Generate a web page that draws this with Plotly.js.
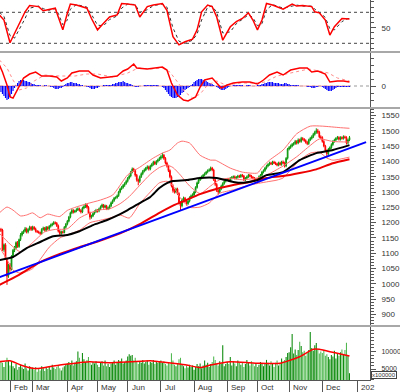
<!DOCTYPE html>
<html><head><meta charset="utf-8">
<script src="https://cdn.plot.ly/plotly-3.0.1.min.js"></script>
<style>html,body{margin:0;padding:0;background:#fff}#c{width:400px;height:392px}</style>
</head><body><div id="c"></div>
<script>
// ---- month ticks (trading-day index of first session of each month) ----
const monthStart = [7,22,45,65,85,107,129,151,171,192,214,237];
const monthLabel = ['Feb','Mar','Apr','May','Jun','Jul','Aug','Sep','Oct','Nov','Dec','202'];
const volTickVals = [5000, 10000];
const volTickText = ['5000', '10000'];

// ---- daily OHLC (VN-Index style, trading days) ----
const open = [
1170,1178,1176,1112,1128,1080,1028,
1062,1048,1090,1110,1118,1135,1122,1145,1160,1168,1172,1180,1170,1178,1185,
1178,1185,1180,1172,1170,1168,1165,1178,1182,1175,1185,1180,1188,1192,1196,1200,1198,1190,1172,1165,1170,1168,1185,
1195,1205,1218,1232,1240,1235,1238,1242,1245,1240,1235,1248,1252,1258,1250,1232,1218,1222,1230,1236,
1240,1238,1245,1252,1258,1250,1255,1245,1248,1255,1265,1272,1280,1282,1288,1300,1310,1315,1322,1328,
1335,1345,1352,1365,1375,1370,1355,1340,1335,1350,1360,1368,1372,1378,1382,1375,1385,1390,1398,1392,1400,1405,
1410,1415,1420,1410,1395,1385,1370,1350,1320,1305,1300,1310,1295,1265,1255,1275,1280,1270,1262,1270,1282,1288,
1290,1300,1315,1330,1340,1345,1350,1355,1360,1365,1370,1372,1378,1372,1340,1325,1305,1300,1310,1320,1328,1335,
1340,1342,1338,1345,1348,1350,1345,1348,1352,1350,1355,1352,1340,1345,1350,1355,1352,1348,1345,1340,
1342,1335,1350,1355,1365,1370,1378,1385,1390,1395,1392,1398,1395,1392,1388,1395,1390,1398,1395,1385,1410,
1440,1445,1450,1455,1458,1465,1460,1470,1465,1475,1472,1468,1462,1458,1470,1475,1480,1488,1495,1500,1495,1480,
1478,1465,1450,1435,1425,1440,1445,1455,1465,1470,1475,1478,1472,1478,1475,1480,1478,1460,1470];
const high = [
1184,1183,1180,1132,1133,1085,1066,
1068,1094,1114,1124,1139,1140,1148,1166,1173,1177,1186,1184,1182,1190,1189,
1190,1189,1184,1176,1174,1171,1182,1187,1186,1189,1188,1192,1197,1200,1205,1204,1202,1194,1176,1174,1174,1189,1199,
1209,1222,1236,1245,1244,1242,1247,1250,1249,1244,1252,1257,1263,1262,1254,1236,1226,1234,1240,1245,
1244,1249,1256,1262,1261,1259,1258,1252,1259,1269,1276,1284,1286,1292,1304,1314,1320,1326,1332,1340,
1349,1357,1369,1380,1379,1374,1359,1344,1354,1364,1372,1377,1382,1387,1386,1389,1395,1402,1402,1404,1409,1415,
1420,1428,1424,1414,1399,1389,1374,1354,1325,1310,1314,1314,1299,1270,1279,1285,1284,1274,1274,1286,1292,1296,
1304,1319,1334,1344,1350,1354,1359,1364,1369,1374,1377,1383,1382,1376,1344,1329,1309,1314,1324,1332,1339,1344,
1346,1346,1349,1352,1354,1354,1352,1356,1356,1359,1359,1356,1349,1354,1359,1359,1356,1352,1349,1346,
1346,1354,1359,1369,1374,1382,1389,1394,1399,1399,1402,1402,1399,1396,1399,1399,1402,1403,1399,1414,1444,
1450,1455,1460,1463,1470,1469,1475,1474,1480,1479,1476,1472,1466,1474,1480,1485,1493,1500,1508,1506,1500,1485,
1482,1469,1454,1439,1444,1449,1459,1469,1474,1479,1483,1482,1482,1482,1485,1484,1482,1474,1483];
const low = [
1166,1170,1108,1105,1080,997,1020,
1040,1044,1086,1104,1114,1118,1118,1140,1155,1163,1168,1165,1165,1174,1173,
1174,1176,1168,1166,1164,1160,1161,1174,1171,1171,1176,1176,1184,1188,1192,1194,1186,1168,1160,1161,1164,1165,1181,
1191,1201,1214,1228,1230,1231,1234,1238,1236,1230,1231,1244,1248,1246,1228,1210,1213,1218,1226,1232,
1233,1234,1241,1248,1246,1247,1241,1241,1244,1251,1261,1268,1276,1278,1284,1296,1306,1311,1317,1324,
1331,1341,1348,1361,1366,1350,1334,1322,1330,1346,1355,1364,1368,1374,1370,1371,1381,1386,1388,1388,1396,1401,
1405,1410,1405,1390,1380,1365,1345,1315,1298,1295,1296,1290,1260,1240,1250,1270,1266,1256,1258,1266,1278,1284,
1286,1296,1311,1326,1336,1341,1346,1351,1356,1361,1366,1368,1368,1336,1320,1300,1292,1296,1306,1316,1324,1331,
1336,1334,1334,1341,1344,1341,1341,1344,1346,1346,1348,1336,1336,1341,1346,1348,1344,1341,1336,1336,
1330,1331,1346,1351,1361,1366,1374,1381,1386,1388,1388,1391,1388,1384,1384,1386,1386,1391,1380,1381,1406,
1436,1441,1446,1451,1454,1455,1456,1461,1461,1468,1464,1458,1453,1454,1466,1471,1476,1484,1490,1490,1476,1472,
1461,1446,1430,1412,1421,1436,1441,1451,1461,1466,1471,1468,1468,1471,1471,1474,1455,1456,1466];
const close = [
1178,1176,1112,1128,1085,1025,1062,
1048,1090,1110,1118,1135,1122,1145,1160,1168,1172,1180,1170,1178,1185,1178,
1185,1180,1172,1170,1168,1165,1178,1182,1175,1185,1180,1188,1192,1196,1200,1198,1190,1172,1165,1170,1168,1185,1195,
1205,1218,1232,1240,1235,1238,1242,1245,1240,1235,1248,1252,1258,1250,1232,1218,1222,1230,1236,1240,
1238,1245,1252,1258,1250,1255,1245,1248,1255,1265,1272,1280,1282,1288,1300,1310,1315,1322,1328,1335,
1345,1352,1365,1375,1370,1355,1340,1335,1350,1360,1368,1372,1378,1382,1375,1385,1390,1398,1392,1400,1405,1410,
1415,1420,1410,1395,1385,1370,1350,1320,1305,1300,1310,1295,1265,1255,1275,1280,1270,1262,1270,1282,1288,1290,
1300,1315,1330,1340,1345,1350,1355,1360,1365,1370,1372,1378,1372,1340,1325,1305,1300,1310,1320,1328,1335,1340,
1342,1338,1345,1348,1350,1345,1348,1352,1350,1355,1352,1340,1345,1350,1355,1352,1348,1345,1340,1342,
1335,1350,1355,1365,1370,1378,1385,1390,1395,1392,1398,1395,1392,1388,1395,1390,1398,1395,1385,1410,1440,
1445,1450,1455,1458,1465,1460,1470,1465,1475,1472,1468,1462,1458,1470,1475,1480,1488,1495,1500,1495,1480,1478,
1465,1450,1435,1425,1440,1445,1455,1465,1470,1475,1478,1472,1478,1475,1480,1478,1460,1470,1478];
// volume, in units of 100000 shares
const volume = [
6500,7200,6800,5600,7000,8200,7400,
6000,7200,5800,5200,6400,4800,5600,6200,5400,5000,6600,5200,4600,5800,5000,
5400,4800,5600,4200,5000,4600,5800,5200,4400,5600,5000,5800,4800,6200,5400,5000,5600,6000,5200,4600,5400,5800,6200,
6600,7000,6200,7400,6000,6800,7200,10000,8200,6400,9600,7800,7000,7600,8400,6800,6200,7000,6600,7200,
6200,5600,6800,7200,6000,7400,5800,6400,5600,6600,7000,7400,6200,6800,7600,7200,8000,6600,7000,7400,
8600,9200,8800,9000,7400,8200,7000,6400,7200,6800,7600,6600,7000,7400,6200,7000,6800,7600,6400,7200,6800,7000,
7400,6800,7200,6400,6000,7000,6600,9500,7400,6200,5800,6600,7800,8200,6400,5800,5200,6000,5400,6200,5600,6000,
4800,5600,6400,5800,6600,5200,6000,7400,6200,6800,5600,6400,7000,8600,7600,6400,6000,7200,6600,11800,5800,6400,
7000,6400,8400,6000,7200,6600,5800,7400,6800,6200,7000,5600,6400,7600,6800,6000,7200,6600,5800,6400,
5600,6200,7000,6400,5800,6600,7600,6800,6000,7200,6400,5600,6800,7400,6000,6600,8000,7200,7600,8400,9600,
9800,11200,15000,9400,10600,9000,10400,12800,11600,9800,10200,8800,9600,10400,15600,11000,10200,11800,12400,10600,9400,10000,
9600,10400,8800,9200,8400,7800,9000,8600,10200,8000,9400,8800,9800,10600,9200,10400,12500,9000,3800];

// ---- indicator lines (trading-day index, value) ----
const ma50Day = [0,9,18,27,35,45,53,62,71,80,85,93,100,106,111,115,124,133,144,155,161,171,177,188,199,210,221,232];
const ma50Val = [1078,1088,1117,1137,1155,1160,1172,1192,1208,1228,1241,1264,1284,1313,1329,1336,1339,1346,1346,1333,1330,1339,1355,1365,1404,1427,1437,1453];
const ma100Day = [0,13,27,40,53,66,80,93,106,116,122,133,146,155,166,177,188,199,210,221,232];
const ma100Val = [997,1030,1071,1098,1120,1140,1165,1195,1232,1258,1270,1293,1313,1323,1333,1346,1352,1362,1374,1394,1407];
const bbUpDay = [0,5,9,14,18,22,27,32,37,40,45,49,58,67,75,85,93,102,108,113,118,121,126,133,140,143,153,161,171,174,179,188,197,206,214,226,232];
const bbUpVal = [1232,1251,1241,1222,1225,1232,1216,1228,1222,1220,1240,1248,1262,1274,1290,1356,1381,1411,1427,1437,1460,1466,1460,1420,1404,1404,1378,1365,1362,1380,1404,1437,1490,1515,1515,1510,1508];
const bbMidDay = [0,7,14,22,30,37,45,53,60,67,73,80,86,93,100,106,111,115,120,126,133,140,146,153,161,171,177,188,197,206,212,221,232];
const bbMidVal = [1165,1130,1105,1135,1170,1178,1180,1215,1232,1242,1245,1262,1285,1322,1358,1380,1388,1380,1355,1320,1295,1320,1340,1345,1340,1346,1355,1385,1415,1452,1473,1465,1463];
const bbLoDay = [0,5,9,14,22,27,33,40,45,53,60,67,73,80,86,93,100,106,111,115,120,126,133,139,146,155,166,177,184,188,193,199,206,212,217,221,232];
const bbLoVal = [1120,1080,1045,1035,1050,1080,1120,1150,1160,1175,1200,1208,1215,1225,1215,1262,1300,1330,1335,1320,1280,1250,1251,1264,1296,1307,1323,1333,1339,1346,1372,1404,1427,1430,1411,1404,1414];
const trendDay = [0,243];
const trendVal = [1022,1463];

const stochDay = [0,3,7,10,17,20,26,29,33,37,39,42,45,47,51,58,61,65,69,73,78,81,85,90,93,98,102,108,111,115,119,123,128,131,134,138,141,144,148,153,157,161,165,168,171,174,177,181,188,194,197,201,207,209,212,216,219,222,227,231,232];
const stochK = [75,65,21,40,81,93,91,83,86,88,71,46,78,96,94,88,68,46,59,71,75,97,96,94,71,91,94,97,84,33,17,23,28,46,81,94,91,71,26,52,62,68,79,65,46,65,97,94,86,96,92,93,91,81,79,65,36,52,68,68,67];
const stochD = [80,72,35,30,68,88,92,87,84,87,78,56,65,86,95,90,76,55,54,66,73,88,96,95,80,85,93,96,90,50,24,20,26,38,65,90,92,80,40,42,58,66,75,70,54,58,85,95,88,92,94,92,92,86,80,70,48,46,62,68,68];

const macdDay = [0,2,5,7,9,12,16,20,24,28,33,38,41,45,48,53,59,62,67,73,78,82,85,89,91,98,104,108,111,114,118,122,125,130,133,136,141,144,147,151,155,161,166,171,175,179,184,188,193,199,204,207,211,216,219,224,228,232];
const macdVal = [21,14,1,-11,-12,-4,8,12,14,10,10,9,5,8,13,15,15,11,8,9,10,15,17,22,18,17,18,19,16,3,-9,-14,-15,-11,-1,6,8,3,-2,1,3,4,4,2,6,11,14,11,16,18,18,14,15,12,4,5,5,4];
const signalDay = [0,5,9,13,18,23,30,40,50,58,65,75,85,92,100,108,113,118,123,128,133,138,144,150,160,170,176,184,190,196,205,212,218,224,232];
const signalVal = [26,18,6,-4,-2,5,11,10,10,12,12,9,13,18,17,18,14,4,-6,-12,-8,1,5,1,3,3,4,10,12,14,17,15,13,8,5];
const macdHist = [
-4,-6,-8,-10,-12,-14,-13,-11,-8,-5,-2,1,3,5,6,6,6,5,5,4,4,3,2,2,1,
1,1,1,0,0,1,1,0,0,-1,-1,-2,-3,-3,-3,-2,-2,-1,
1,2,3,3,4,4,3,3,3,2,2,1,1,0,0,-1,-1,
-2,-3,-3,-3,-2,-2,-1,0,0,1,1,1,1,1,1,2,2,
3,3,4,4,4,5,4,3,3,2,2,1,0,-1,-1,-1,0,0,0,1,
1,1,1,1,1,1,1,1,1,0,0,
-1,-2,-4,-6,-8,-10,-11,-12,-12,-12,-11,-10,-9,-7,-6,-4,-3,-2,
-1,1,2,4,5,6,7,7,7,6,6,5,4,3,3,2,1,0,
-1,-2,-3,-4,-4,-4,-3,-2,-1,0,
0,1,1,1,1,1,1,1,0,0,1,1,1,0,0,0,0,1,1,
1,2,2,3,3,4,4,4,4,3,3,3,3,2,2,2,3,3,2,2,1,
1,1,1,1,1,0,0,0,0,0,-1,-1,
-1,-2,-2,-2,-1,-1,0,0,
-1,-2,-3,-4,-5,-5,-5,-4,-3,-2,-1,-1,
-1,-1,-1,-1,-1,-1,-1];

const volMaDay = [0,7,14,22,27,40,53,60,73,87,100,106,115,124,133,140,153,166,173,186,193,199,208,212,219,226,232];
const volMaVal = [7086,7370,6143,5200,5200,6140,6800,7086,6800,7086,7370,7086,6629,6140,5400,6140,7086,6800,6629,6629,7570,8514,10630,10630,9943,9286,8714];

// ---- build ----
const day = close.map((_, i) => i);
const lastDay = day[day.length - 1];
const volColor = close.map((c, i) => c >= open[i] ? '#0a8a0a' : '#4fb84f');
const F = 'Liberation Sans, Arial, sans-serif';

const traces = [
  // stochastic
  {x: stochDay, y: stochD, yaxis: 'y', type: 'scatter', mode: 'lines', line: {color: '#333', width: 1, dash: 'dot'}},
  {x: stochDay, y: stochK, yaxis: 'y', type: 'scatter', mode: 'lines', line: {color: '#ff0000', width: 1.5}},
  // MACD
  {x: day, y: macdHist, yaxis: 'y2', type: 'bar', marker: {color: '#0000ff', line: {width: 0}}, width: 0.75},
  {x: signalDay, y: signalVal, yaxis: 'y2', type: 'scatter', mode: 'lines', line: {color: '#ff8c8c', width: 1, dash: 'dot'}},
  {x: macdDay, y: macdVal, yaxis: 'y2', type: 'scatter', mode: 'lines', line: {color: '#ff0000', width: 1.5}},
  // price
  {x: bbUpDay, y: bbUpVal, yaxis: 'y3', type: 'scatter', mode: 'lines', line: {color: '#ff7070', width: 1, shape: 'spline', smoothing: 0.6}},
  {x: bbMidDay, y: bbMidVal, yaxis: 'y3', type: 'scatter', mode: 'lines', line: {color: '#ff7070', width: 1, shape: 'spline', smoothing: 0.6}},
  {x: bbLoDay, y: bbLoVal, yaxis: 'y3', type: 'scatter', mode: 'lines', line: {color: '#ff7070', width: 1, shape: 'spline', smoothing: 0.6}},
  {x: ma100Day, y: ma100Val, yaxis: 'y3', type: 'scatter', mode: 'lines', line: {color: '#ee0000', width: 2, shape: 'spline', smoothing: 0.5}},
  {x: ma50Day, y: ma50Val, yaxis: 'y3', type: 'scatter', mode: 'lines', line: {color: '#000000', width: 2, shape: 'spline', smoothing: 0.5}},
  {x: trendDay, y: trendVal, yaxis: 'y3', type: 'scatter', mode: 'lines', line: {color: '#0000ff', width: 2}},
  {x: day, open: open, high: high, low: low, close: close, yaxis: 'y3', type: 'candlestick', whiskerwidth: 0,
   increasing: {line: {color: '#109a10', width: 1}, fillcolor: '#109a10'},
   decreasing: {line: {color: '#ff0000', width: 1}, fillcolor: '#ff0000'}},
  // volume
  {x: day, y: volume, yaxis: 'y4', type: 'bar', marker: {color: volColor, line: {width: 0}}, width: 0.7},
  {x: volMaDay, y: volMaVal, yaxis: 'y4', type: 'scatter', mode: 'lines', line: {color: '#ff0000', width: 1.5, shape: 'spline', smoothing: 0.5}}
];

function yax(extra) {
  return Object.assign({
    side: 'right', anchor: 'x', showgrid: false, zeroline: false, showline: true, linecolor: '#555', linewidth: 1,
    ticks: 'outside', ticklen: 5, tickcolor: '#555', tickfont: {family: F, size: 8, color: '#333'},
    ticklabelstandoff: 4, fixedrange: true
  }, extra);
}

const layout = {
  width: 400, height: 392, margin: {l: 0, r: 30, t: 0, b: 12, pad: 0},
  paper_bgcolor: '#fff', plot_bgcolor: '#fff', showlegend: false, bargap: 0.3,
  font: {family: F, size: 8, color: '#333'},
  xaxis: {domain: [0, 1], range: [0.37, 245.6], anchor: 'y4', tickmode: 'array', tickvals: monthStart,
    showticklabels: false, ticks: 'outside', ticklen: 12, tickcolor: '#555', showline: true, linecolor: '#555',
    showgrid: false, zeroline: false, rangeslider: {visible: false}, fixedrange: true},
  yaxis: yax({domain: [0.8658, 1], range: [5.1, 103.8], tickmode: 'array', tickvals: [50],
    minor: {ticks: 'outside', ticklen: 3, tickcolor: '#555', dtick: 10, tick0: 0, showgrid: false}}),
  yaxis2: yax({domain: [0.7184, 0.8605], range: [-21, 33], tickmode: 'array', tickvals: [0],
    minor: {ticks: 'outside', ticklen: 3, tickcolor: '#555', dtick: 7, tick0: 0, showgrid: false}}),
  yaxis3: yax({domain: [0.1447, 0.7132], range: [866, 1571], tickmode: 'linear', dtick: 50, tick0: 0,
    minor: {ticks: 'outside', ticklen: 3, tickcolor: '#555', dtick: 10, tick0: 0, showgrid: false}}),
  yaxis4: yax({domain: [0, 0.1395], range: [1857, 17000], tickmode: 'array', tickvals: volTickVals, ticktext: volTickText,
    tickfont: {family: F, size: 7, color: '#333'},
    minor: {ticks: 'outside', ticklen: 3, tickcolor: '#555', dtick: 1000, tick0: 0, showgrid: false}}),
  shapes: [
    // panel separators
    {type: 'line', xref: 'paper', yref: 'paper', x0: 0, x1: 1.082, y0: 0.8632, y1: 0.8632, line: {color: '#a8a8a8', width: 2}},
    {type: 'line', xref: 'paper', yref: 'paper', x0: 0, x1: 1.082, y0: 0.7158, y1: 0.7158, line: {color: '#a8a8a8', width: 2}},
    {type: 'line', xref: 'paper', yref: 'paper', x0: 0, x1: 1.082, y0: 0.1421, y1: 0.1421, line: {color: '#a8a8a8', width: 2}},
    // stochastic 80 / 20 levels
    {type: 'line', xref: 'paper', yref: 'y', x0: 0, x1: 1, y0: 80, y1: 80, layer: 'below', line: {color: '#444', width: 1, dash: 'dot'}},
    {type: 'line', xref: 'paper', yref: 'y', x0: 0, x1: 1, y0: 20, y1: 20, layer: 'below', line: {color: '#444', width: 1, dash: 'dot'}},
    // MACD zero line
    {type: 'line', xref: 'paper', yref: 'y2', x0: 0, x1: 1, y0: 0, y1: 0, layer: 'below', line: {color: '#999', width: 1, dash: 'dot'}},
    {type: 'line', xref: 'x', yref: 'y2', x0: 0, x1: lastDay, y0: 0, y1: 0, layer: 'below', line: {color: '#ffaaaa', width: 1}}
  ],
  annotations: monthStart.map((m, k) => ({
    x: m + 1.2, y: -0.021, xref: 'x', yref: 'paper', text: monthLabel[k], showarrow: false,
    xanchor: 'left', yanchor: 'middle', font: {family: F, size: 8, color: '#333'}
  })).concat([
    {x: 1.003, y: 0.012, xref: 'paper', yref: 'paper', text: 'x100000', showarrow: false, xanchor: 'left', yanchor: 'middle',
     font: {family: F, size: 6, color: '#333'}, bordercolor: '#444', borderwidth: 1, borderpad: 0, bgcolor: '#fff'}
  ])
};

Plotly.newPlot('c', traces, layout, {staticPlot: true, displayModeBar: false});
</script>
</body></html>
